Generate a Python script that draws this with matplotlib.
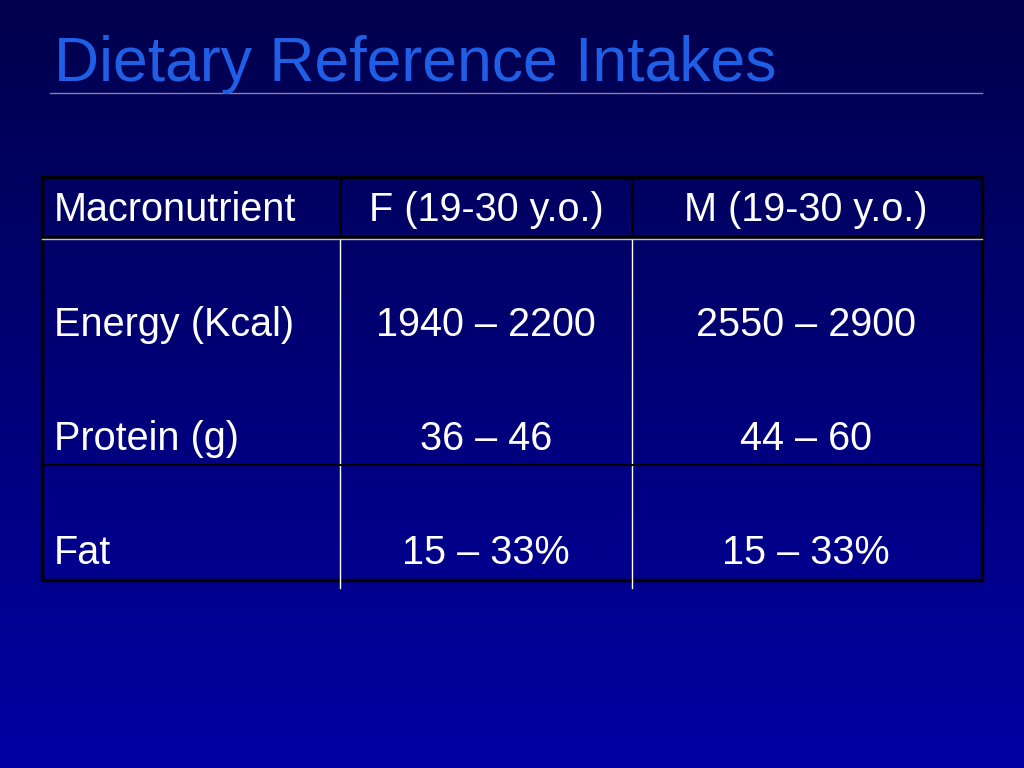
import numpy as np
import matplotlib.pyplot as plt

title = "Dietary Reference Intakes"
headers = ["Macronutrient", "F (19-30 y.o.)", "M (19-30 y.o.)"]
rows = ["Energy (Kcal)", "Protein (g)", "Fat"]
female = ["1940 \u2013 2200", "36 \u2013 46", "15 \u2013 33%"]
male = ["2550 \u2013 2900", "44 \u2013 60", "15 \u2013 33%"]

plt.rcParams["font.family"] = "Liberation Sans"
fig = plt.figure(figsize=(10.24, 7.68), dpi=100)
ax = fig.add_axes([0, 0, 1, 1])
ax.set_xlim(0, 1024)
ax.set_ylim(768, 0)
ax.axis("off")

# background gradient
g = np.linspace(0, 1, 256).reshape(-1, 1)
top = np.array([0.0, 0.0, 0.30])
bot = np.array([0.0, 0.0, 0.64])
img = top + (bot - top) * g[..., None]
ax.imshow(img, extent=[0, 1024, 768, 0], aspect="auto", zorder=0)

ax.text(54, 64, title, color="#1f5fe6", fontsize=45, va="center", ha="left")
ax.plot([50, 982], [93, 93], color="#8080b0", lw=1)

# table lines
ax.plot([340, 340], [237, 588], color="white", lw=1)
ax.plot([632, 632], [237, 588], color="white", lw=1)
ax.plot([340, 340], [177, 237], color="black", lw=2)
ax.plot([632, 632], [177, 237], color="black", lw=2)
ax.plot([42, 982], [237, 237], color="black", lw=2.5)
ax.plot([42, 982], [239, 239], color="#c0c0e0", lw=1)
ax.plot([42, 982], [465, 465], color="black", lw=1.5)
ax.add_patch(plt.Rectangle((42, 177), 940, 403, fill=False, ec="black", lw=2.5))

fs = 28.5
hy = 210
ax.text(54, hy, headers[0], color="white", fontsize=fs, va="center")
ax.text(486, hy, headers[1], color="white", fontsize=fs, va="center", ha="center")
ax.text(806, hy, headers[2], color="white", fontsize=fs, va="center", ha="center")

ys = [325, 439, 553]
for y, r, f, m in zip(ys, rows, female, male):
    ax.text(54, y, r, color="white", fontsize=fs, va="center")
    ax.text(486, y, f, color="white", fontsize=fs, va="center", ha="center")
    ax.text(806, y, m, color="white", fontsize=fs, va="center", ha="center")

fig.savefig("out.png", dpi=100)
